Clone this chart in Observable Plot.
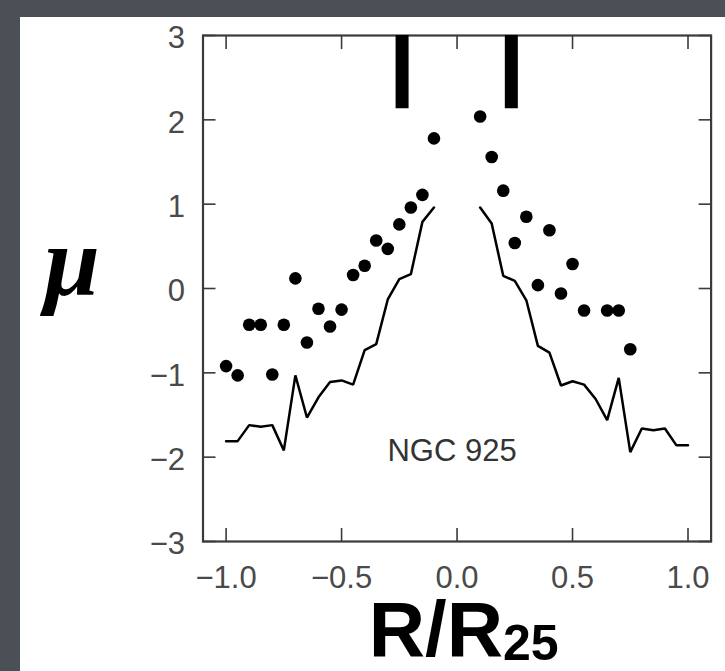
<!DOCTYPE html>
<html>
<head>
<meta charset="utf-8">
<script src="https://cdn.jsdelivr.net/npm/d3@7"></script>
<script src="https://cdn.jsdelivr.net/npm/@observablehq/plot@0.6"></script>
<style>
  html, body { margin: 0; padding: 0; }
  body { width: 725px; height: 671px; background: #4b4f56; position: relative; overflow: hidden; }
  #chart { position: absolute; left: 20px; top: 17px; width: 705px; height: 654px; background: #ffffff; }
  #chart svg { display: block; }
</style>
</head>
<body>
<div id="chart"></div>
<script>
// ---- data ----
const dotX = [-1.0,-0.95,-0.9,-0.85,-0.8,-0.75,-0.7,-0.65,-0.6,-0.55,-0.5,-0.45,-0.4,-0.35,-0.3,-0.25,-0.2,-0.15,-0.1,
              0.1,0.15,0.2,0.25,0.3,0.35,0.4,0.45,0.5,0.55,0.65,0.7,0.75];
const dotY = [-0.92,-1.03,-0.43,-0.43,-1.02,-0.43,0.12,-0.64,-0.24,-0.45,-0.25,0.16,0.27,0.57,0.47,0.76,0.96,1.11,1.78,
              2.04,1.56,1.16,0.54,0.85,0.04,0.69,-0.06,0.29,-0.26,-0.26,-0.26,-0.72];

const lineLeftX = [-1.0,-0.95,-0.9,-0.85,-0.8,-0.75,-0.7,-0.65,-0.6,-0.55,-0.5,-0.45,-0.4,-0.35,-0.3,-0.25,-0.2,-0.15,-0.1];
const lineLeftY = [-1.81,-1.81,-1.62,-1.64,-1.62,-1.92,-1.03,-1.53,-1.29,-1.11,-1.09,-1.14,-0.73,-0.66,-0.13,0.11,0.17,0.79,0.96];
const lineRightX = [0.1,0.15,0.2,0.25,0.3,0.35,0.4,0.45,0.5,0.55,0.6,0.65,0.7,0.75,0.8,0.85,0.9,0.95,1.0];
const lineRightY = [0.96,0.77,0.15,0.09,-0.14,-0.68,-0.76,-1.15,-1.10,-1.14,-1.31,-1.56,-1.06,-1.94,-1.66,-1.68,-1.66,-1.86,-1.86];

const markerX = [-0.238, 0.235];
const markerTop = 3;
const markerBottom = 2.13;

const xTicks = [-1.0, -0.5, 0.0, 0.5, 1.0];
const yTicks = [-3, -2, -1, 0, 1, 2, 3];

const galaxyLabel = "NGC 925";
const yLabel = "\u03BC";
const xLabelMain = "R/R";
const xLabelSub = "25";

// ---- build tables ----
const dots = dotX.map((x, i) => ({x, y: dotY[i]}));
const lines = [
  ...lineLeftX.map((x, i) => ({x, y: lineLeftY[i], side: "left"})),
  ...lineRightX.map((x, i) => ({x, y: lineRightY[i], side: "right"}))
];
const markers = markerX.map(x => ({x, y1: markerBottom, y2: markerTop}));

const ink = "#3a3a3a";
const fmtX = d3.format(".1f");
const fmtY = d3.format("d");

const chart = Plot.plot({
  width: 705,
  height: 654,
  marginLeft: 182.5,
  marginRight: 14.4,
  marginTop: 18,
  marginBottom: 130,
  x: {domain: [-1.1, 1.1], label: null},
  y: {domain: [-3, 3], label: null},
  style: {background: "white", fontFamily: "'Liberation Sans', Arial, sans-serif", color: ink, overflow: "visible"},
  marks: [
    // inward tick marks on all four sides
    Plot.axisX(xTicks, {anchor: "bottom", tickSize: -13, text: null, stroke: ink, strokeWidth: 1.6, label: null}),
    Plot.axisX(xTicks, {anchor: "top", tickSize: -13, text: null, stroke: ink, strokeWidth: 1.6, label: null}),
    Plot.axisY(yTicks, {anchor: "left", tickSize: -13, text: null, stroke: ink, strokeWidth: 1.6, label: null}),
    Plot.axisY(yTicks, {anchor: "right", tickSize: -13, text: null, stroke: ink, strokeWidth: 1.6, label: null}),
    // tick labels
    Plot.axisX(xTicks, {anchor: "bottom", tickSize: 0, tickPadding: 24, tickFormat: fmtX, fontSize: 31, fill: "#4a4a4a", label: null}),
    Plot.axisY(yTicks, {anchor: "left", tickSize: 0, tickPadding: 18, tickFormat: fmtY, fontSize: 31, fill: "#4a4a4a", dy: 3, label: null}),
    Plot.frame({stroke: ink, strokeWidth: 2.2}),
    // thick markers hanging from the top
    Plot.ruleX(markers, {x: "x", y1: "y1", y2: "y2", stroke: "black", strokeWidth: 13}),
    // profile lines
    Plot.line(lines, {x: "x", y: "y", z: "side", stroke: "black", strokeWidth: 2.5, strokeLinejoin: "miter"}),
    // dots
    Plot.dot(dots, {x: "x", y: "y", r: 6.3, fill: "black", stroke: "none"}),
    // in-plot label
    Plot.text([galaxyLabel], {text: d => d, frameAnchor: "bottom", dx: -5, dy: -81, lineAnchor: "bottom", textAnchor: "middle", fontSize: 31, fill: "#333"}),
    // y axis label
    Plot.text([yLabel], {text: d => d, frameAnchor: "left", dx: -131, dy: 6, lineAnchor: "bottom", textAnchor: "middle", fontSize: 100, fontWeight: "bold", fontStyle: "italic", fontFamily: "'Liberation Serif', 'DejaVu Serif', serif", fill: "black"}),
    // x axis label with subscript
    Plot.text([xLabelMain], {text: d => d, frameAnchor: "bottom", dx: 46, dy: 114, lineAnchor: "bottom", textAnchor: "end", fontSize: 78, fontWeight: "bold", fill: "black"}),
    Plot.text([xLabelSub], {text: d => d, frameAnchor: "bottom", dx: 46, dy: 118.5, lineAnchor: "bottom", textAnchor: "start", fontSize: 50, fontWeight: "bold", fill: "black"})
  ]
});
document.getElementById("chart").appendChild(chart);
</script>
</body>
</html>
